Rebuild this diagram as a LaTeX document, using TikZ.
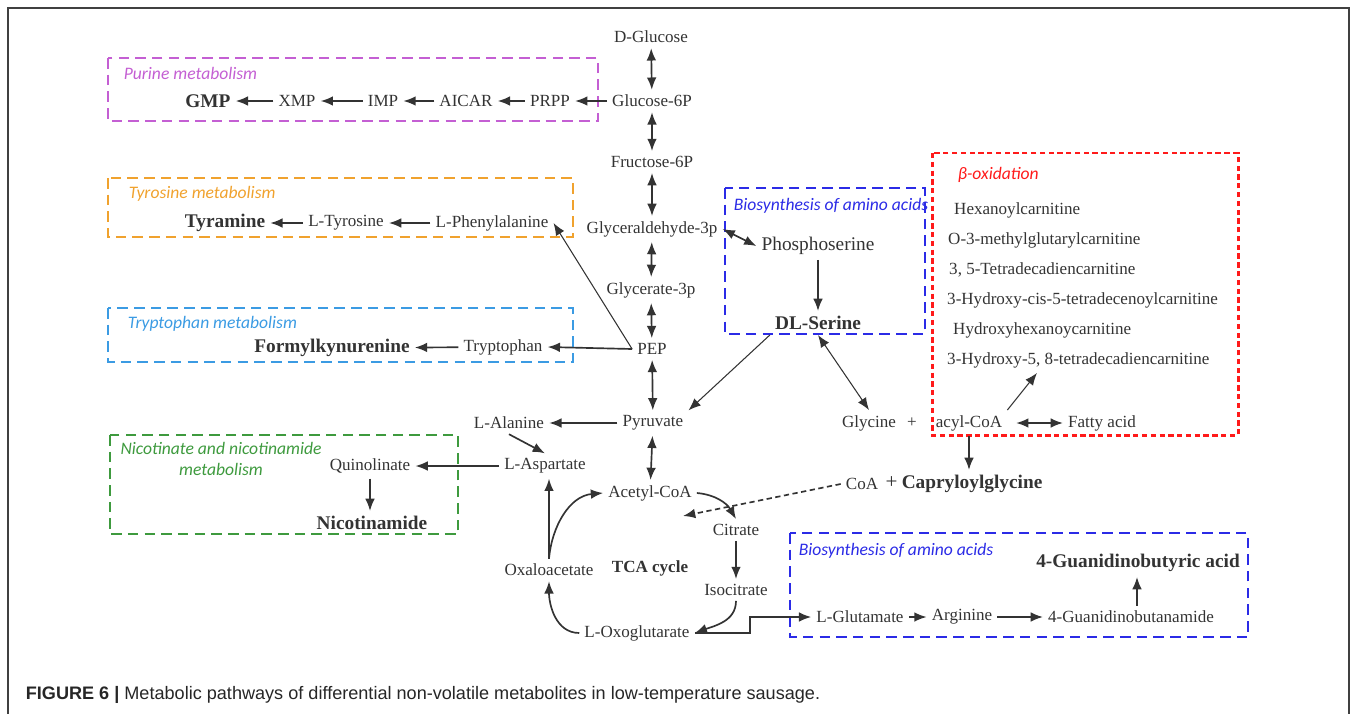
\documentclass[tikz,border=0pt]{standalone}
\usepackage{fontspec}
\setmainfont{Liberation Serif}
\setsansfont{Carlito}
\newfontfamily\capfont{Liberation Sans}
\usetikzlibrary{arrows.meta}
\definecolor{ink}{HTML}{333333}
\definecolor{purp}{HTML}{C45FD3}
\definecolor{oran}{HTML}{F0A22E}
\definecolor{tryb}{HTML}{3B9BE3}
\definecolor{gren}{HTML}{3E9A3E}
\definecolor{blu}{HTML}{2B2BE6}
\definecolor{redd}{HTML}{FF1A1A}

\begin{document}
\begin{tikzpicture}[x=0.02cm,y=-0.02cm,line width=0.95pt,draw=ink,>={Latex[length=7pt,width=5.5pt]},
	every node/.style={text=ink,font=\fontsize{9.7}{11}\selectfont,inner sep=2.5pt},
	hit/.style={font=\fontsize{11}{13}\selectfont\bfseries},
	big/.style={font=\fontsize{11}{13}\selectfont},
	ttl/.style={font=\sffamily\itshape\fontsize{10}{12}\selectfont,anchor=west,inner sep=0pt},
	frame/.style={dash pattern=on 6pt off 3.5pt,line width=0.75pt},
	item/.style={anchor=west}]
	\useasboundingbox (0,0) rectangle (1357,714);
	\draw[line width=1.1pt,black!75] (8,714) -- (8,8) -- (1349,8) -- (1349,714);
	% glycolysis
		\node (glc) at (651,37) {D-Glucose};
		\node (g6p) at (652,101) {Glucose-6P};	\draw[<->] (glc) -- (g6p);
		\node (f6p) at (652,162) {Fructose-6P};	\draw[<->] (g6p) -- (f6p);
		\node (gald) at (652,229) {Glyceraldehyde-3p};	\draw[<->] (f6p) -- (gald);
		\node (glyc) at (651,290) {Glycerate-3p};	\draw[<->] (gald) -- (glyc);
		\node (pep) at (652,349) {PEP};	\draw[<->] (glyc) -- (pep);
		\node (pyr) at (653,423) {Pyruvate};	\draw[<->] (pep) -- (pyr);
		\node (acoa) at (650,493) {Acetyl-CoA};	\draw[<->] (pyr) -- (acoa);
	% purine
		\draw[frame,purp] (108,58) rectangle (598,121);
		\node[ttl,text=purp] (purt) at (123,73) {Purine metabolism};
		\node (prpp) at (550,101) {PRPP};	\draw[->] (g6p) -- (prpp);
		\node (aicar) at (466,101) {AICAR};	\draw[->] (prpp) -- (aicar);
		\node (imp) at (383,101) {IMP};	\draw[->] (aicar) -- (imp);
		\node (xmp) at (297,101) {XMP};	\draw[->] (imp) -- (xmp);
		\node[hit] (gmp) at (208,101) {GMP};	\draw[->] (xmp) -- (gmp);
	% tyrosine
		\draw[frame,oran] (108,178) rectangle (573,237);
		\node[ttl,text=oran] (tyrt) at (128,194) {Tyrosine metabolism};
		\node (phe) at (492,223) {L-Phenylalanine};	\draw[->,semithick] (pep.west) -- (phe.east);
		\node (tyr) at (346,223) {L-Tyrosine};	\draw[->] (phe) -- (tyr);
		\node[hit] (tyra) at (225,223) {Tyramine};	\draw[->] (tyr) -- (tyra);
	% tryptophan
		\draw[frame,tryb] (108,308) rectangle (573,362);
		\node[ttl,text=tryb] (trpt) at (127,324) {Tryptophan metabolism};
		\node (trp) at (503,347) {Tryptophan};	\draw[->] (pep.west) -- (trp.east);
		\node[hit] (fkyn) at (332,348) {Formylkynurenine};	\draw[->] (trp) -- (fkyn);
	% nicotinate
		\draw[frame,gren] (110,435) rectangle (458,534);
		\node[ttl,text=gren,anchor=center,align=center] (nict) at (221,459) {Nicotinate and nicotinamide\\metabolism};
		\node (ala) at (509,423) {L-Alanine};	\draw[->] (pyr) -- (ala);
		\node (asp) at (545,466) {L-Aspartate};	\draw[->] (ala.south) -- (asp.north);
		\node (quin) at (370,466) {Quinolinate};	\draw[->] (asp) -- (quin);
		\node[hit] (nic) at (372,523) {Nicotinamide};	\draw[->] (quin.south) -- (quin.south |- nic.north);
	% TCA cycle
		\node (cit) at (736,530) {Citrate};	\draw[->] (acoa.east) to[out=-5,in=120] (cit.north);
		\node (iso) at (736,590) {Isocitrate};	\draw[->] (cit) -- (iso);
		\node (oxo) at (637,633) {L-Oxoglutarate};	\draw[->] (iso.south) to[out=-90,in=20] (oxo.east);
		\node (oxa) at (549,570) {Oxaloacetate};	\draw[->] (oxo.west) to[out=180,in=-90] (oxa.south);
			\draw[->] (oxa.north) -- (oxa.north |- asp.south); \draw[->] (oxa.north) to[out=85,in=185] (acoa.west);
		\node[font=\fontsize{9.7}{11}\selectfont\bfseries] (tca) at (650,568) {TCA cycle};
	% serine
		\draw[frame,blu] (725,188) rectangle (925,334);
		\node[ttl,text=blu] (bio1) at (733,206) {Biosynthesis of amino acids};
		\node[big] (phos) at (818,246) {Phosphoserine};	\draw[<->] (gald.east) -- (phos.west);
		\node[hit] (ser) at (818,323) {DL-Serine};	\draw[->] (phos) -- (ser);
			\draw[->,semithick] (ser.south west) -- (pyr.north east);
		\node (gly) at (869,423) {Glycine};	\draw[<->,semithick] (ser.south) -- (gly.north);
		\node (plus) at (912,423) {+};
	% beta-oxidation
		\draw[redd,line width=1.7pt,dash pattern=on 3pt off 2pt] (932,153) rectangle (1238,435);
		\node[ttl,text=redd] (betat) at (957,175) {β-oxidation};
		\node[item] (hex) at (949,210) {Hexanoylcarnitine};
		\node[item] (mglu) at (943,240) {O-3-methylglutarylcarnitine};
		\node[item] (tdc) at (944,270) {3, 5-Tetradecadiencarnitine};
		\node[item] (hcis) at (942,300) {3-Hydroxy-cis-5-tetradecenoylcarnitine};
		\node[item] (hhex) at (948,330) {Hydroxyhexanoycarnitine};
		\node[item] (h58) at (942,360) {3-Hydroxy-5, 8-tetradecadiencarnitine};
		\node (acyl) at (969,423) {acyl-CoA};	\draw[->,semithick] (acyl.north east) -- ([xshift=1.9cm]h58.south west);
		\node (fatty) at (1102,423) {Fatty acid};	\draw[<->,shorten <=5pt] (acyl) -- (fatty);
		\node (coa) at (862,484) {CoA};
		\node (cap) at (964,484) {{\large +} \textbf{\fontsize{11}{13}\selectfont Capryloylglycine}};
			\draw[->] (acyl.south) -- (acyl.south |- cap.north);
		\coordinate (tcain) at (683,516);	\draw[->,dash pattern=on 3pt off 2pt] (coa.west) -- (tcain);
	% glutamate
		\draw[frame,blu] (790,533) rectangle (1248,637);
		\node[ttl,text=blu] (bio2) at (798,551) {Biosynthesis of amino acids};
		\node (glu) at (860,617) {L-Glutamate};	\draw[->] (oxo.east) -- ++(55,0) |- (glu.west);
		\node (arg) at (962,617) {Arginine};	\draw[->] (glu) -- (arg);
		\node (gbam) at (1131,617) {4-Guanidinobutanamide};	\draw[->] (arg) -- (gbam);
		\node[hit] (gbac) at (1138,563) {4-Guanidinobutyric acid};
			\draw[->] ([xshift=0.12cm]gbam.north) -- ([xshift=0.12cm]gbam.north |- gbac.south);
	% caption
		\node[anchor=west,inner sep=0pt,text=black!85,font=\capfont\fontsize{10.3}{12}\selectfont] (cap6) at (25,695) {\textbf{FIGURE 6 |} Metabolic pathways of differential non-volatile metabolites in low-temperature sausage.};
	\end{tikzpicture}
\end{document}
